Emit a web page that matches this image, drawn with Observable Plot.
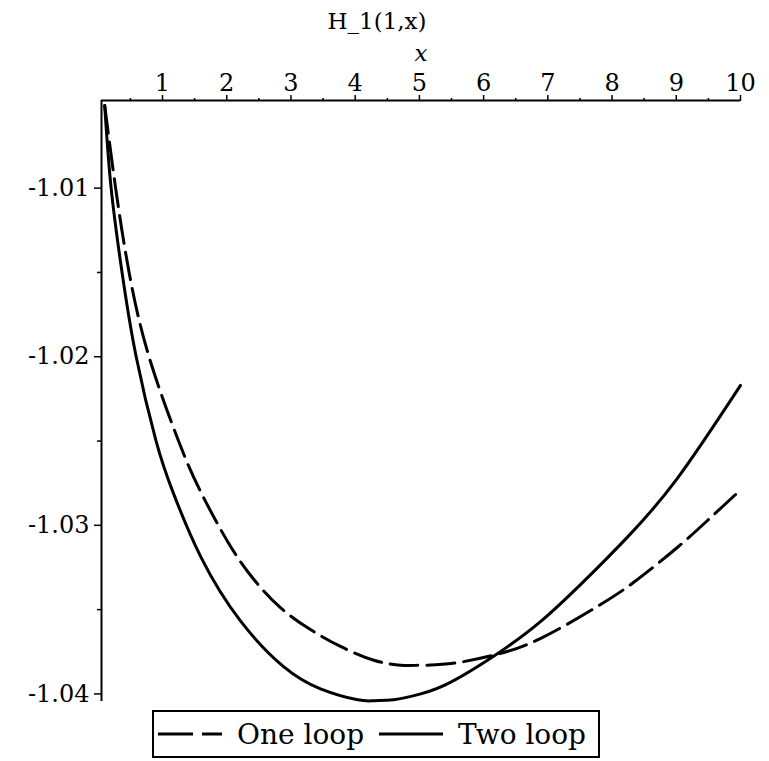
<!DOCTYPE html>
<html><head><meta charset="utf-8">
<script src="https://cdn.jsdelivr.net/npm/d3@7"></script>
<script src="https://cdn.jsdelivr.net/npm/@observablehq/plot@0.6"></script>
<style>
body{margin:0;background:#fff;font-family:"DejaVu Serif",serif;}
#chart svg{display:block;}
#legend{position:relative;margin-left:152px;width:444px;height:44px;border:2px solid #000;font-size:28px;color:#000;}
#legend .it{position:absolute;top:0;height:44px;display:flex;align-items:center;white-space:nowrap;}
</style></head><body>
<div id="chart"></div>
<div id="legend"></div>
<script>
const title = "H_1(1,x)";
const xLabel = "x";
const seriesNames = ["One loop", "Two loop"];
const xTicks = [1, 2, 3, 4, 5, 6, 7, 8, 9, 10];
const xMinorTicks = [0.5, 1.5, 2.5, 3.5, 4.5, 5.5, 6.5, 7.5, 8.5, 9.5];
const yTicks = [-1.01, -1.02, -1.03, -1.04];
const yMinorTicks = [-1.015, -1.025, -1.035];
const xDomain = [0.05, 10];
const yDomain = [-1.04045, -1.0048];

const oneLoopX = [0.10, 0.27, 0.48, 0.79, 1.25, 1.58, 2.02, 2.42, 2.84, 3.31, 3.78, 4.29, 4.71, 5.02, 5.49, 6.16, 6.89, 7.82, 8.40, 9.02, 9.49, 10.0];
const oneLoopY = [-1.0051, -1.0100, -1.0150, -1.0200, -1.0250, -1.0279, -1.0310, -1.0332, -1.0349, -1.0362, -1.0372, -1.0380, -1.0383, -1.0383, -1.0382, -1.0377, -1.0367, -1.0347, -1.0332, -1.0313, -1.0297, -1.0279];

const twoLoopX = [0.10, 0.20, 0.37, 0.59, 0.90, 1.16, 1.60, 2.22, 2.89, 3.46, 4.04, 4.30, 4.60, 5.02, 5.49, 6.22, 6.89, 7.54, 8.24, 9.02, 10.0];
const twoLoopY = [-1.0051, -1.0100, -1.0150, -1.0200, -1.0250, -1.0280, -1.0319, -1.0357, -1.0384, -1.0397, -1.04035, -1.0404, -1.04035, -1.0400, -1.0393, -1.0376, -1.0357, -1.0334, -1.0307, -1.0272, -1.0217];

const oneData = oneLoopX.map((x, i) => ({series: seriesNames[0], x, y: oneLoopY[i]}));
const twoData = twoLoopX.map((x, i) => ({series: seriesNames[1], x, y: twoLoopY[i]}));

const chart = Plot.plot({
  width: 769, height: 710,
  marginTop: 100, marginLeft: 101, marginRight: 29, marginBottom: 9,
  style: {fontFamily: "DejaVu Serif, serif", background: "white", color: "black", fontSize: "24px", overflow: "visible"},
  x: {domain: xDomain},
  y: {domain: yDomain},
  marks: [
    Plot.axisX({anchor: "top", ticks: xTicks, tickSize: 6, tickPadding: 4, label: null, fontSize: 24, strokeWidth: 1.5, tickFormat: d => String(d)}),
    Plot.axisX({anchor: "top", ticks: xMinorTicks, tickSize: 3, text: null, label: null, strokeWidth: 1.5}),
    Plot.axisY({anchor: "left", ticks: yTicks, tickSize: 7, tickPadding: 5, label: null, fontSize: 24, strokeWidth: 1.5, tickFormat: d => d.toFixed(2)}),
    Plot.axisY({anchor: "left", ticks: yMinorTicks, tickSize: 4, text: null, label: null, strokeWidth: 1.5}),
    Plot.ruleY([yDomain[1]], {strokeWidth: 2}),
    Plot.ruleX([xDomain[0]], {strokeWidth: 2}),
    Plot.line(oneData, {x: "x", y: "y", curve: "natural", stroke: "black", strokeWidth: 3, strokeDasharray: "28,9"}),
    Plot.line(twoData, {x: "x", y: "y", curve: "natural", stroke: "black", strokeWidth: 3}),
    Plot.text([xLabel], {frameAnchor: "top", dy: -40, fontStyle: "italic", fontSize: 23, lineAnchor: "bottom"}),
    Plot.text([title], {frameAnchor: "top", dx: -44, dy: -72, fontSize: 23, lineAnchor: "bottom"})
  ]
});
document.getElementById("chart").appendChild(chart);

const legend = document.getElementById("legend");
const items = [
  {name: seriesNames[0], dash: "35,9", swX: 4, txX: 83},
  {name: seriesNames[1], dash: null, swX: 225, txX: 304}
];
for (const it of items) {
  const sw = document.createElement("div");
  sw.className = "it";
  sw.style.left = it.swX + "px";
  sw.innerHTML = `<svg width="66" height="10"><line x1="0" y1="5" x2="64" y2="5" stroke="black" stroke-width="3" ${it.dash ? `stroke-dasharray="${it.dash}"` : ""}/></svg>`;
  legend.appendChild(sw);
  const tx = document.createElement("div");
  tx.className = "it";
  tx.style.left = it.txX + "px";
  tx.textContent = it.name;
  legend.appendChild(tx);
}
</script>
</body></html>
